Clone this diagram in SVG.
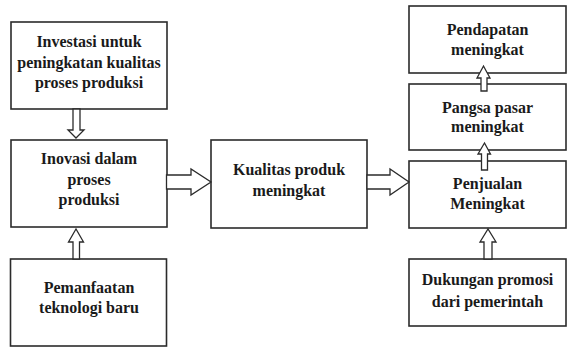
<svg xmlns="http://www.w3.org/2000/svg" width="570" height="347" viewBox="0 0 570 347">
<style>
.box{fill:#fff;stroke:#2b2b2b;stroke-width:1.6}
.arr{fill:#fff;stroke:#2b2b2b;stroke-width:1.3;stroke-linejoin:miter}
.t{font-family:'Liberation Serif','Times New Roman',serif;font-weight:700;font-size:16px;fill:#1a1a1a;text-anchor:middle}
</style>
<rect width="570" height="347" fill="#fff"/>
<g id="n1"><rect class="box" x="11" y="22" width="156" height="87"/>
<text class="t" transform="translate(89,47) scale(1,1.1)">Investasi untuk</text><text class="t" transform="translate(89,67.5) scale(1,1.1)">peningkatan kualitas</text><text class="t" transform="translate(89,88) scale(1,1.1)">proses produksi</text></g>
<g id="n2"><rect class="box" x="11" y="140" width="156" height="87"/>
<text class="t" transform="translate(89,164) scale(1,1.1)">Inovasi dalam</text><text class="t" transform="translate(89,184.5) scale(1,1.1)">proses</text><text class="t" transform="translate(89,205) scale(1,1.1)">produksi</text></g>
<g id="n3"><rect class="box" x="10.5" y="259" width="156" height="87"/>
<text class="t" transform="translate(89,293) scale(1,1.1)">Pemanfaatan</text><text class="t" transform="translate(89,313) scale(1,1.1)">teknologi baru</text></g>
<g id="n4"><rect class="box" x="211" y="140" width="156" height="88"/>
<text class="t" transform="translate(289,175) scale(1,1.1)">Kualitas produk</text><text class="t" transform="translate(289,195.5) scale(1,1.1)">meningkat</text></g>
<g id="n5"><rect class="box" x="409" y="6" width="157" height="67"/>
<text class="t" transform="translate(487.5,34.5) scale(1,1.1)">Pendapatan</text><text class="t" transform="translate(487.5,54.5) scale(1,1.1)">meningkat</text></g>
<g id="n6"><rect class="box" x="409" y="84" width="157" height="66"/>
<text class="t" transform="translate(487.5,112.5) scale(1,1.1)">Pangsa pasar</text><text class="t" transform="translate(487.5,132) scale(1,1.1)">meningkat</text></g>
<g id="n7"><rect class="box" x="409" y="161" width="157" height="67"/>
<text class="t" transform="translate(487.5,188.5) scale(1,1.1)">Penjualan</text><text class="t" transform="translate(487.5,209) scale(1,1.1)">Meningkat</text></g>
<g id="n8"><rect class="box" x="409" y="259" width="157" height="67"/>
<text class="t" transform="translate(487.5,285) scale(1,1.1)">Dukungan promosi</text><text class="t" transform="translate(487.5,307) scale(1,1.1)">dari pemerintah</text></g>
<g id="connectors">
<path class="arr" d="M73,109 H80 V130 H84 L76,138 L68,130 H73 Z"/>
<path class="arr" d="M73,259 H79.5 V242 H83.5 L76,229 L68.5,242 H73 Z"/>
<path class="arr" d="M166.5,175 H191 V169 L211,182 L191,195 V189 H166.5 Z"/>
<path class="arr" d="M367,175 H390 V169 L409,182 L390,195 V189 H367 Z"/>
<path class="arr" d="M484,259 H492 V242 H496 L488,229 L480,242 H484 Z"/>
<path class="arr" d="M481,91 H487 V78 H490 L483.5,66 L477,78 H481 Z"/>
<path class="arr" d="M481.5,170 H487.5 V154 H490.5 L484.5,143 L478,154 H481.5 Z"/>
</g>
</svg>
